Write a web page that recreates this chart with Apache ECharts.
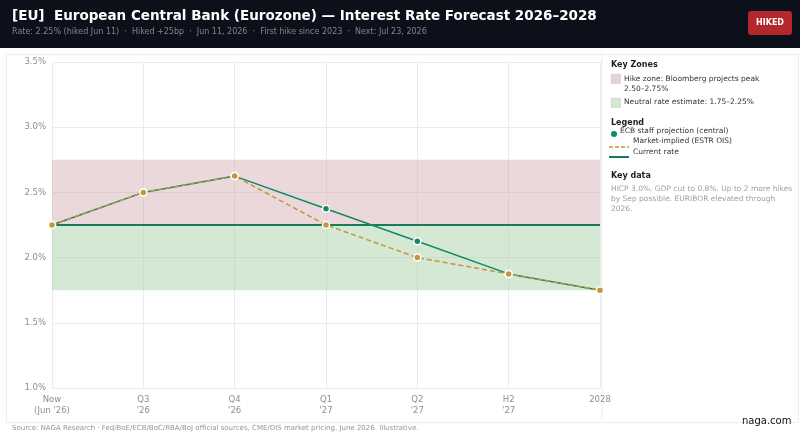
<!DOCTYPE html>
<html>
<head>
<meta charset="utf-8">
<script src="https://cdn.jsdelivr.net/npm/echarts@6/dist/echarts.min.js"></script>
<style>
  html, body { margin: 0; padding: 0; background: #fff; }
  #chart { width: 800px; height: 436px; }
</style>
</head>
<body>
<div id="chart"></div>
<script>
// categories along the x axis
const periods = ["Now\n(Jun '26)", "Q3\n'26", "Q4\n'26", "Q1\n'27", "Q2\n'27", "H2\n'27", "2028"];
// ECB staff projection (central), %
const ecbProjection = [2.25, 2.50, 2.625, 2.375, 2.125, 1.875, 1.75];
// market-implied path (ESTR OIS), %
const marketImplied = [2.25, 2.50, 2.625, 2.25, 2.00, 1.875, 1.75];
// current policy rate, flat
const currentRate = [2.25, 2.25, 2.25, 2.25, 2.25, 2.25, 2.25];
// zones
const hikeZone = [2.25, 2.75];
const neutralZone = [1.75, 2.25];

const FONT = "DejaVu Sans";
const GREEN = "#0e8a68";
const GOLD = "#c4973a";

var myChart = echarts.init(document.getElementById("chart"));

let option = {
  animation: false,
  textStyle: { fontFamily: FONT },
  grid: { left: 52, right: 200, top: 62, bottom: 48 },
  xAxis: {
    type: "category",
    boundaryGap: false,
    data: periods,
    axisLine: { show: false },
    axisTick: { show: false },
    axisLabel: { color: "#8a8f96", fontSize: 8.5, lineHeight: 11, margin: 6 },
    splitLine: { show: true, lineStyle: { color: "#ebebef", width: 1 } },
  },
  yAxis: {
    type: "value",
    min: 1.0,
    max: 3.5,
    interval: 0.5,
    axisLine: { show: false },
    axisTick: { show: false },
    axisLabel: {
      color: "#8a8f96",
      fontSize: 8.5,
      margin: 6,
      formatter: function (v) { return v.toFixed(1) + "%"; },
    },
    splitLine: { show: true, lineStyle: { color: "#ebebef", width: 1 } },
  },
  series: [
    {
      name: "zones",
      type: "line",
      data: [],
      markArea: {
        silent: true,
        data: [
          [{ yAxis: hikeZone[0], itemStyle: { color: "rgba(204,162,168,0.42)" } }, { yAxis: hikeZone[1] }],
          [{ yAxis: neutralZone[0], itemStyle: { color: "rgba(162,204,160,0.45)" } }, { yAxis: neutralZone[1] }],
        ],
      },
    },
    {
      name: "Current rate",
      type: "line",
      data: currentRate,
      showSymbol: false,
      lineStyle: { color: "#1b7a5c", width: 2 },
      z: 3,
    },
    {
      name: "ECB staff projection (central)",
      type: "line",
      data: ecbProjection,
      symbol: "circle",
      symbolSize: 7,
      lineStyle: { color: GREEN, width: 1.5 },
      itemStyle: { color: GREEN, borderColor: "#fff", borderWidth: 1.5 },
      z: 4,
    },
    {
      name: "Market-implied (ESTR OIS)",
      type: "line",
      data: marketImplied,
      symbol: "circle",
      symbolSize: 7,
      lineStyle: { color: GOLD, width: 1.5, type: [5, 3] },
      itemStyle: { color: GOLD, borderColor: "#fff", borderWidth: 1.5 },
      z: 5,
    },
  ],
  graphic: [
    // header
    { type: "rect", left: 0, top: 0, shape: { width: 800, height: 48 }, style: { fill: "#0c101b" }, z: 0 },
    { type: "text", left: 12, top: 9, style: { text: "[EU]  European Central Bank (Eurozone) — Interest Rate Forecast 2026–2028", fill: "#fff", font: "bold 13.5px " + FONT } },
    { type: "text", left: 12, top: 28, style: { text: "Rate: 2.25% (hiked Jun 11)  ·  Hiked +25bp  ·  Jun 11, 2026  ·  First hike since 2023  ·  Next: Jul 23, 2026", fill: "#7f8590", font: "8px " + FONT } },
    { type: "rect", left: 748, top: 11, shape: { width: 44, height: 24, r: 3 }, style: { fill: "#b3282d" } },
    { type: "text", x: 770, y: 23, style: { text: "HIKED", fill: "#fff", font: "bold 8px " + FONT, align: "center", verticalAlign: "middle" } },
    // panel borders
    { type: "rect", left: 4, top: 52, shape: { width: 792, height: 368 }, style: { fill: "none", stroke: "#eceef1", lineWidth: 1 }, silent: true },
    { type: "line", shape: { x1: 602, y1: 52, x2: 602, y2: 420 }, style: { stroke: "#eceef1", lineWidth: 1 } },
    // key zones
    { type: "text", left: 611, top: 61, style: { text: "Key Zones", fill: "#1c1f24", font: "bold 8px " + FONT } },
    { type: "rect", left: 611, top: 74, shape: { width: 9, height: 9 }, style: { fill: "#e6d4d6", stroke: "#c9b5b8", lineWidth: 0.6 } },
    { type: "text", left: 624, top: 74, style: { text: "Hike zone: Bloomberg projects peak\n2.50–2.75%", fill: "#333", font: "7.5px " + FONT, lineHeight: 10 } },
    { type: "rect", left: 611, top: 98, shape: { width: 9, height: 9 }, style: { fill: "#d7e8d5", stroke: "#b5c9b3", lineWidth: 0.6 } },
    { type: "text", left: 624, top: 98, style: { text: "Neutral rate estimate: 1.75–2.25%", fill: "#333", font: "7.5px " + FONT } },
    // legend
    { type: "text", left: 611, top: 119, style: { text: "Legend", fill: "#1c1f24", font: "bold 8px " + FONT } },
    { type: "circle", shape: { cx: 614, cy: 134, r: 3 }, style: { fill: GREEN } },
    { type: "text", left: 620, top: 127, style: { text: "ECB staff projection (central)", fill: "#333", font: "7.5px " + FONT } },
    { type: "line", shape: { x1: 609, y1: 147, x2: 629, y2: 147 }, style: { stroke: GOLD, lineWidth: 1.5, lineDash: [4, 2] } },
    { type: "text", left: 633, top: 137, style: { text: "Market-implied (ESTR OIS)", fill: "#333", font: "7.5px " + FONT } },
    { type: "line", shape: { x1: 609, y1: 157, x2: 629, y2: 157 }, style: { stroke: "#1b7a5c", lineWidth: 2 } },
    { type: "text", left: 633, top: 148, style: { text: "Current rate", fill: "#333", font: "7.5px " + FONT } },
    // key data
    { type: "text", left: 611, top: 172, style: { text: "Key data", fill: "#1c1f24", font: "bold 8px " + FONT } },
    { type: "text", left: 611, top: 184, style: { text: "HICP 3.0%. GDP cut to 0.8%. Up to 2 more hikes\nby Sep possible. EURIBOR elevated through\n2026.", fill: "#9a9ea5", font: "7.5px " + FONT, lineHeight: 10 } },
    // footer
    { type: "text", left: 12, top: 425, style: { text: "Source: NAGA Research · Fed/BoE/ECB/BoC/RBA/BoJ official sources, CME/OIS market pricing, June 2026. Illustrative.", fill: "#8c96a0", font: "7px " + FONT } },
    { type: "text", left: 742, top: 416, style: { text: "naga.com", fill: "#111", font: "10px " + FONT } },
  ],
};

myChart.setOption(option);
</script>
</body>
</html>
